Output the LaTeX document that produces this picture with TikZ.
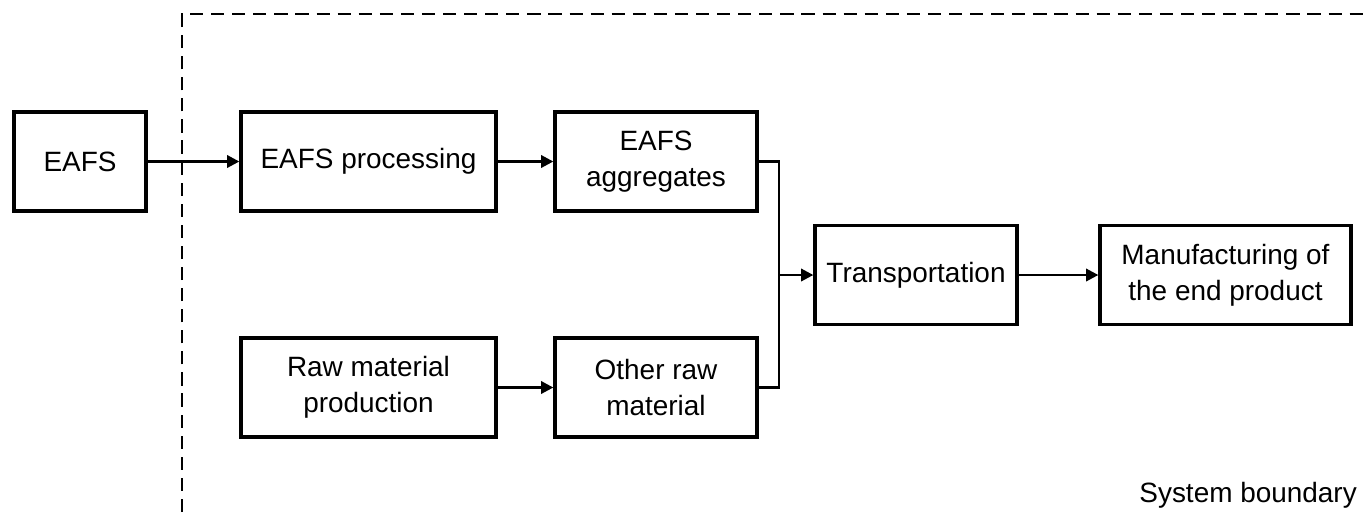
\documentclass[tikz,border=0pt]{standalone}
\usepackage{fontspec}
\setmainfont{Liberation Sans}
\usepackage{tikz}
\usetikzlibrary{arrows.meta,positioning,calc}

\begin{document}
\begin{tikzpicture}[x=0.02cm, y=-0.02cm,
    blk/.style={draw, rectangle, line width=1.9pt, minimum height=1.98cm, align=center, font=\fontsize{15.9}{20.5}\selectfont},
    arr/.style={line width=1.5pt, -{Triangle[length=7pt, width=7pt]}},
    lnk/.style={line width=1.5pt}
]
\useasboundingbox (0,0) rectangle (1365,512);

% system boundary
\draw[line width=1.3pt, dash pattern=on 7.5pt off 4.5pt] (182,512) -- (182,14) -- (1365,14);
\node[anchor=base east, font=\fontsize{15.9}{20.5}\selectfont] (sysb) at (1363,502) {System boundary};

% process blocks
\node[blk, minimum width=2.64cm] (eafs) at (80,161.5) {EAFS};
\node[blk, minimum width=5.1cm] (proc) at (368.5,161.5) {EAFS processing};
\node[blk, minimum width=4.04cm] (agg) at (656,161.5) {EAFS\\aggregates};
\node[blk, minimum width=5.1cm] (rawprod) at (368.5,387.5) {Raw material\\production};
\node[blk, minimum width=4.04cm] (other) at (656,387.5) {Other raw\\material};
\node[blk, minimum width=4.04cm] (trans) at (916,275) {Transportation};
\node[blk, minimum width=5.02cm] (manuf) at (1225.5,275) {Manufacturing of\\the end product};
\coordinate (junc) at (779,275);

% flows
\draw[arr] (eafs) -- (proc);
\draw[arr] (proc) -- (agg);
\draw[arr] (rawprod) -- (other);
\draw[lnk] (agg.east) -| (junc) |- (other.east);
\draw[arr] (junc) -- (trans);
\draw[arr] (trans) -- (manuf);
\end{tikzpicture}
\end{document}
